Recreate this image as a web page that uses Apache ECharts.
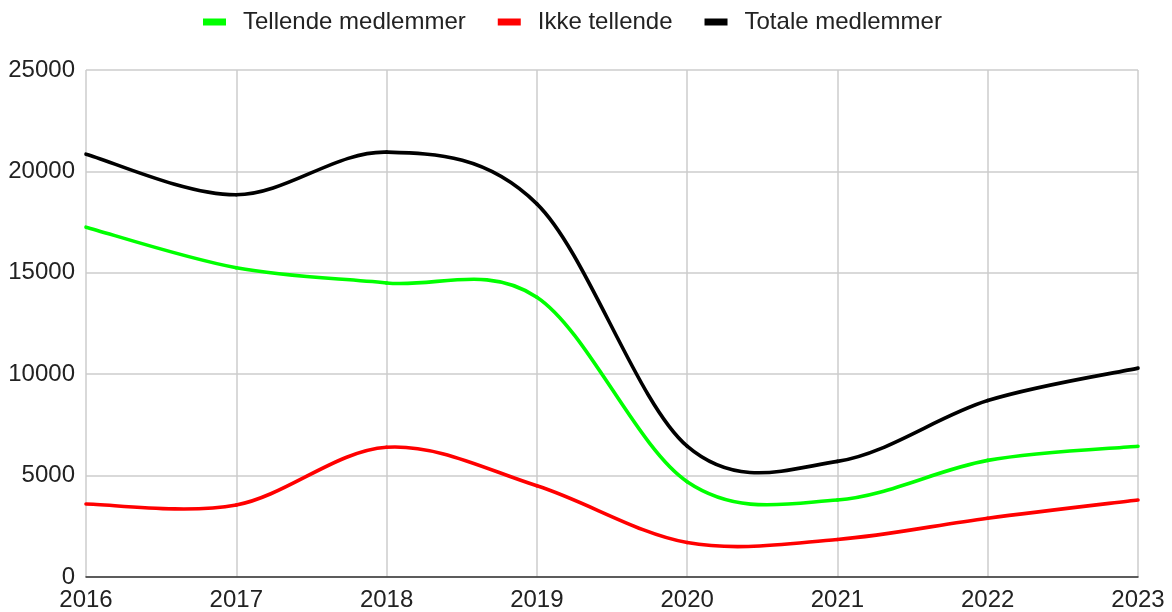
<!DOCTYPE html>
<html>
<head>
<meta charset="utf-8">
<script src="https://cdn.jsdelivr.net/npm/echarts@6/dist/echarts.min.js"></script>
<style>
  html, body { margin: 0; padding: 0; background: #fff; }
  #chart { width: 1172px; height: 612px; }
</style>
</head>
<body>
<div id="chart"></div>
<script>
const years = ['2016', '2017', '2018', '2019', '2020', '2021', '2022', '2023'];
const tellende = [17250, 15250, 14500, 13800, 4700, 3800, 5750, 6450];
const ikkeTellende = [3600, 3550, 6400, 4500, 1700, 1850, 2900, 3800];
const totale = [20850, 18850, 20950, 18400, 6450, 5700, 8700, 10300];

const chart = echarts.init(document.getElementById('chart'));

// Catmull-Rom style curve, one bezier segment per point, through the axis coords
function curveSeries(name, values, color) {
  return {
    name,
    type: 'custom',
    data: values.map((v, i) => [i, v]),
    encode: { x: 0, y: 1 },
    itemStyle: { color },
    renderItem(params, api) {
      const i = params.dataIndex;
      const last = values.length - 1;
      if (i >= last) return null;
      const pt = (k) => {
        const j = Math.max(0, Math.min(last, k));
        return api.coord([j, values[j]]);
      };
      const p0 = pt(i - 1);
      const p1 = pt(i);
      const p2 = pt(i + 1);
      const p3 = pt(i + 2);
      return {
        type: 'bezierCurve',
        shape: {
          x1: p1[0], y1: p1[1],
          x2: p2[0], y2: p2[1],
          cpx1: p1[0] + (p2[0] - p0[0]) / 6,
          cpy1: p1[1] + (p2[1] - p0[1]) / 6,
          cpx2: p2[0] - (p3[0] - p1[0]) / 6,
          cpy2: p2[1] - (p3[1] - p1[1]) / 6,
        },
        style: { fill: null, stroke: color, lineWidth: 3.6, lineCap: 'round' },
      };
    },
  };
}

chart.setOption({
  animation: false,
  textStyle: { fontFamily: 'Liberation Sans, Arial, sans-serif' },
  legend: {
    top: 5,
    left: 198,
    icon: 'rect',
    itemWidth: 23,
    itemHeight: 7,
    itemGap: 32,
    textStyle: { color: '#222', fontSize: 24, padding: [0, 0, 0, 12] },
    data: ['Tellende medlemmer', 'Ikke tellende', 'Totale medlemmer'],
  },
  grid: { left: 86, right: 34, top: 70, bottom: 35 },
  xAxis: {
    type: 'category',
    data: years,
    boundaryGap: false,
    axisLine: { lineStyle: { color: '#333', width: 1.5 } },
    axisTick: { show: false },
    axisLabel: { color: '#222', fontSize: 24, margin: 11 },
    splitLine: { show: true, lineStyle: { color: '#cccccc', width: 1.5 } },
  },
  yAxis: {
    type: 'value',
    min: 0,
    max: 25000,
    interval: 5000,
    axisLine: { show: false },
    axisTick: { show: false },
    axisLabel: { color: '#222', fontSize: 24, margin: 11, formatter: (v) => String(v) },
    splitLine: { lineStyle: { color: '#cccccc', width: 1.5 } },
  },
  series: [
    curveSeries('Tellende medlemmer', tellende, '#00ff00'),
    curveSeries('Ikke tellende', ikkeTellende, '#ff0000'),
    curveSeries('Totale medlemmer', totale, '#000000'),
  ],
});
</script>
</body>
</html>
